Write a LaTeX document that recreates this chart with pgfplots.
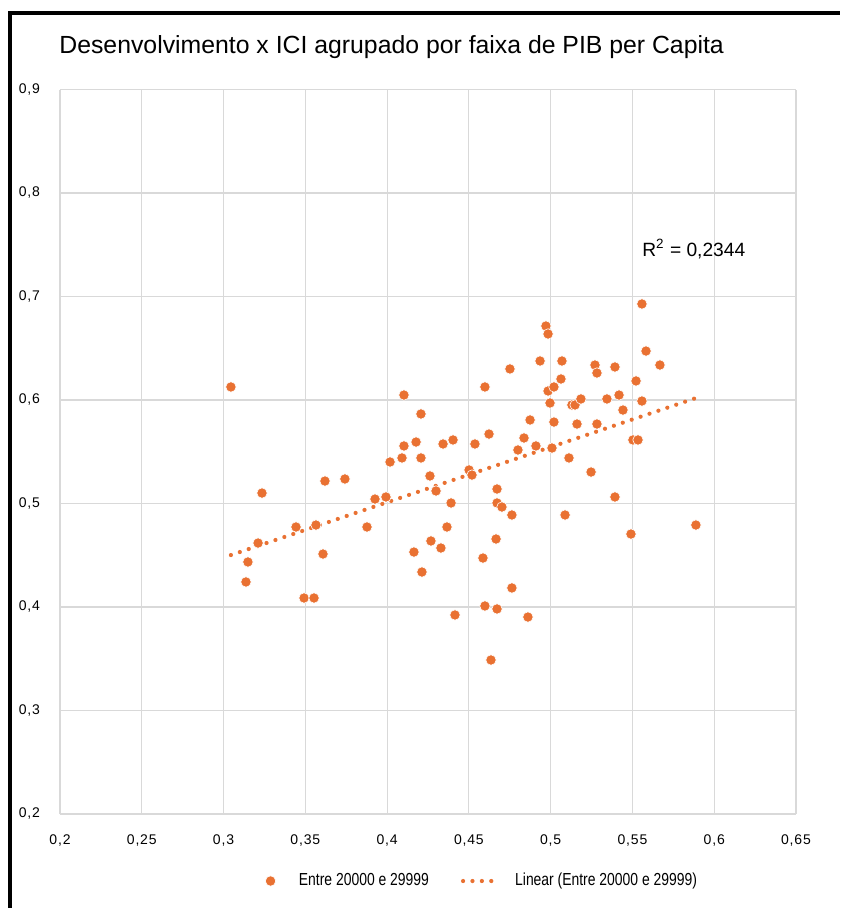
\documentclass[border=0pt]{standalone}
\usepackage{pgfplots}
\pgfplotsset{compat=1.18}
\usepackage{fontspec}
\setmainfont{Liberation Sans}
\newfontfamily\narrowfont[FakeStretch=0.8]{Liberation Sans}
\newfontfamily\tickfont[LetterSpace=6]{Liberation Sans}
\definecolor{orng}{HTML}{E97132}
\definecolor{gridc}{HTML}{D9D9D9}
\pgfplotsset{
  lineleg/.style={legend image code/.code={\draw[##1] (0pt,0pt) -- (18.5pt,0pt); \path (23pt,0pt);}},
  markleg/.style={legend image code/.code={\draw[##1] plot coordinates {(0pt,0pt)}; \path (12pt,0pt);}},
}

\pgfplotstableread{
x y
0.3045 0.6126
0.3235 0.5101
0.3211 0.4618
0.3149 0.4435
0.3137 0.4242
0.3443 0.4773
0.3565 0.4792
0.3608 0.4512
0.3492 0.4087
0.3553 0.4087
0.3620 0.5217
0.3742 0.5237
0.3877 0.4773
0.3926 0.5043
0.3993 0.5063
0.4018 0.5401
0.4091 0.5440
0.4103 0.5556
0.4177 0.5594
0.4103 0.6048
0.4164 0.4531
0.4207 0.5865
0.4207 0.5440
0.4262 0.5266
0.4342 0.5575
0.4403 0.5614
0.4501 0.5324
0.4519 0.5275
0.4537 0.5575
0.4623 0.5671
0.4598 0.6126
0.4751 0.6300
0.4935 0.6377
0.4971 0.6715
0.4984 0.6638
0.5069 0.6377
0.5063 0.6203
0.4984 0.6087
0.5020 0.6126
0.4996 0.5971
0.5130 0.5952
0.5149 0.5952
0.5185 0.6010
0.4874 0.5807
0.5020 0.5787
0.5161 0.5768
0.4837 0.5633
0.4800 0.5517
0.4910 0.5556
0.5008 0.5536
0.5112 0.5440
0.5247 0.5304
0.5271 0.6338
0.5283 0.6261
0.5283 0.5768
0.4299 0.5121
0.4391 0.5005
0.4672 0.5140
0.4672 0.5005
0.4702 0.4966
0.4763 0.4889
0.5088 0.4889
0.4366 0.4773
0.4268 0.4638
0.4329 0.4570
0.4213 0.4338
0.4666 0.4657
0.4586 0.4473
0.4763 0.4184
0.4598 0.4010
0.4672 0.3981
0.4415 0.3923
0.4861 0.3903
0.4635 0.3488
0.5558 0.6928
0.5583 0.6473
0.5668 0.6338
0.5522 0.6184
0.5393 0.6319
0.5344 0.6010
0.5418 0.6048
0.5442 0.5903
0.5558 0.5990
0.5503 0.5614
0.5534 0.5614
0.5393 0.5063
0.5491 0.4705
0.5888 0.4792
}\pointsdata

\begin{document}
\begin{tikzpicture}
\path[use as bounding box, fill=white] (-30pt,-47pt) rectangle (390pt,407pt);
\begin{axis}[
  at={(0,0)}, anchor=south west,
  scale only axis, width=368pt, height=362.25pt,
  xmin=0.2, xmax=0.65, ymin=0.2, ymax=0.9,
  xtick={0.2,0.25,0.3,0.35,0.4,0.45,0.5,0.55,0.6,0.65},
  ytick={0.2,0.3,0.4,0.5,0.6,0.7,0.8,0.9},
  grid=major,
  major grid style={draw=gridc, line width=0.6pt},
  axis line style={draw=none},
  major tick length=0pt,
  tick label style={font=\tickfont\fontsize{7}{8}\selectfont, text=black},
  /pgf/number format/.cd, use comma, assume math mode=true,
  /pgfplots/.cd,
  yticklabel style={anchor=east, xshift=-6.5pt},
  xticklabel style={anchor=north, yshift=-7pt},
  clip=false,
  legend style={at={(0.575,-0.0925)}, anchor=center, draw=none, fill=none,
    legend columns=2, font=\narrowfont\fontsize{8.7}{10}\selectfont,
    /tikz/every even column/.append style={column sep=14pt}},
]
\addplot[only marks, mark=*, mark size=2.6pt, color=orng, mark options={draw=white, line width=0.3pt, fill=orng}, markleg] table[x=x,y=y] {\pointsdata};
\addlegendentry{Entre 20000 e 29999}
\addplot[color=orng, line width=2.1pt, line cap=round, dash pattern=on 0pt off 4.7pt, lineleg] coordinates {(0.3045,0.4502) (0.5888,0.6019)};
\addlegendentry{Linear (Entre 20000 e 29999)}
\node[anchor=west, font=\fontsize{9.6}{12}\selectfont, inner sep=0pt] at (axis cs:0.5558,0.7459) {R\textsuperscript{2} = 0,2344};
\end{axis}
\node[anchor=west, inner sep=0pt, font=\fontsize{12.4}{14}\selectfont] at (-0.5pt,383.5pt) {Desenvolvimento x ICI agrupado por faixa de PIB per Capita};
\draw[black, line width=2pt] (-25pt,-47pt) -- (-25pt,400.25pt) -- (390pt,400.25pt);
\end{tikzpicture}
\end{document}
